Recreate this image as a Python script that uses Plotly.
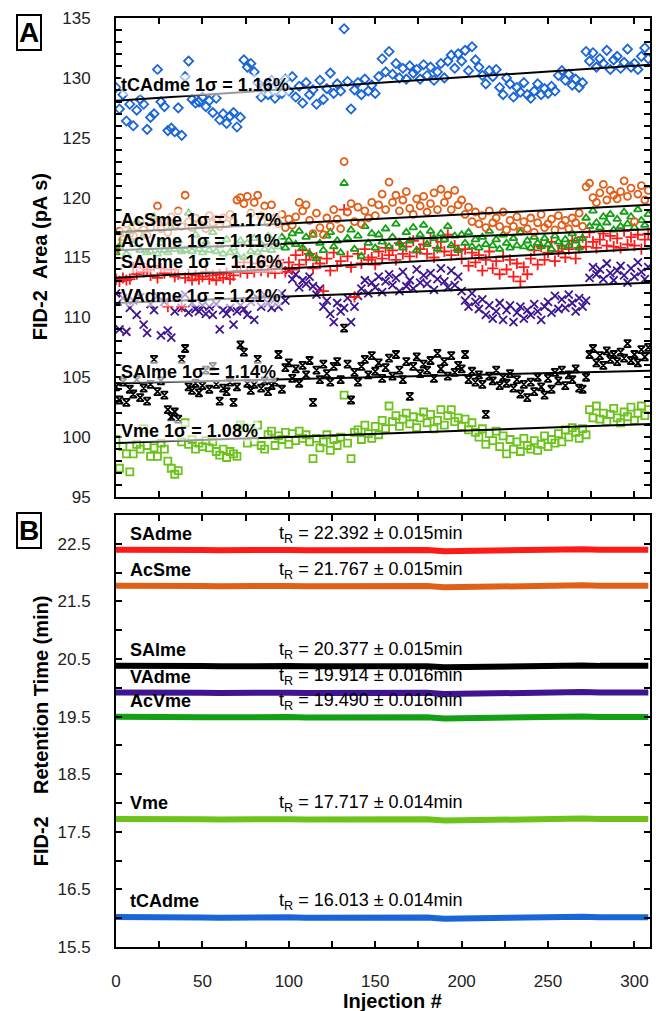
import plotly.graph_objects as go

# ---------------- DATA ----------------
inj = list(range(0, 310, 2))  # injection numbers (every 2nd injection)

tCAdme = [129.2, 127.4, 128.6, 126.4, 127.8,
          126.0, 127.3, 128.2, 127.8, 125.7,
          126.7, 127.0, 130.7, 128.0, 127.6,
          125.6, 125.8, 125.5, 127.5, 125.2,
          130.1, 131.4, 128.2, 127.9, 128.0,
          128.4, 127.6, 128.1, 127.1, 128.3,
          126.5, 127.0, 126.2, 126.8, 127.1,
          125.9, 126.7, 131.5, 130.9, 131.2,
          130.5, 129.6, 128.4, 129.2, 128.6,
          129.8, 128.3, 129.4, 128.7, 129.9,
          128.9, 130.1, 128.4, 129.3, 127.9,
          129.6, 128.6, 129.0, 127.8, 129.8,
          128.2, 129.1, 130.4, 128.7, 129.5,
          128.9, 134.1, 129.7, 127.4, 129.0,
          129.6, 128.6, 129.9, 128.9, 129.4,
          128.7, 130.1, 131.6, 130.5, 132.2,
          130.3, 131.2, 130.0, 130.8, 129.9,
          131.0, 130.4, 130.7, 129.9, 131.1,
          130.2, 130.9, 129.8, 130.5, 131.2,
          130.0, 131.4, 131.9, 130.8, 132.0,
          131.4, 132.3, 130.6, 132.6, 131.5,
          130.9, 130.2, 129.5, 130.6, 130.1,
          130.7, 129.2, 128.6, 130.0, 129.5,
          128.4, 129.2, 128.8, 129.6, 128.6,
          128.3, 128.9, 129.5, 128.6, 129.1,
          128.7, 129.3, 128.9, 130.2, 130.6,
          129.8, 130.3, 129.4, 129.9, 129.2,
          129.6, 132.2, 131.4, 132.1, 130.9,
          131.6, 131.2, 132.3, 130.7, 131.5,
          131.8, 130.8, 131.3, 132.4, 130.9,
          131.2, 130.7, 131.8, 132.5, 131.6]

AcSme = [115.7, 117.2, 116.5, 117.8, 117.0,
         116.8, 117.6, 118.0, 117.3, 116.9,
         117.5, 118.2, 119.3, 117.4, 118.0,
         117.1, 118.4, 117.7, 118.9, 117.6,
         120.2, 118.0, 117.5, 118.3, 117.8,
         118.1, 117.4, 118.5, 117.9, 118.2,
         117.6, 118.3, 117.8, 118.6, 118.0,
         119.8, 120.0, 119.5, 120.1, 118.7,
         119.6, 120.2, 118.5, 119.3, 117.9,
         119.4, 118.3, 117.8, 118.6, 117.5,
         118.2, 117.7, 118.4, 119.6, 118.9,
         119.4, 118.1, 117.0, 118.7, 117.5,
         116.9, 118.3, 117.6, 119.0, 118.2,
         117.4, 123.0, 118.8, 119.5, 118.0,
         119.2, 117.8, 118.9, 118.3, 119.6,
         118.5, 119.4, 120.3, 119.0, 121.3,
         119.6, 120.2, 118.9, 119.8, 120.5,
         119.1, 118.6, 119.9, 119.3, 120.1,
         118.8, 119.5, 120.4, 119.0, 120.7,
         119.6, 120.2, 119.0, 120.6, 119.4,
         119.8, 118.6, 119.2, 118.0, 118.8,
         117.8, 118.5, 117.5, 118.9, 117.9,
         118.3, 117.6, 118.8, 117.3, 118.1,
         117.6, 118.4, 117.2, 118.0, 117.4,
         118.3, 117.1, 117.9, 118.6, 117.5,
         117.8, 118.2, 117.3, 118.5, 117.7,
         118.1, 117.4, 118.3, 117.9, 118.7,
         117.6, 120.9, 121.2, 120.0, 119.6,
         120.4, 121.1, 119.8, 120.6, 120.2,
         119.9, 120.5, 121.4, 120.1, 120.8,
         118.0, 120.3, 121.0, 119.8, 120.6]

AcVme = [115.4, 115.9, 116.6, 115.3, 117.2,
         116.1, 118.0, 115.6, 116.8, 115.4,
         115.5, 118.4, 115.3, 116.2, 115.6,
         115.4, 117.5, 115.7, 116.4, 115.5,
         115.6, 118.7, 115.5, 116.9, 115.7,
         115.4, 116.3, 115.6, 117.1, 115.5,
         116.0, 115.3, 116.5, 115.4, 115.8,
         115.2, 116.4, 115.0, 116.2, 115.5,
         116.6, 115.4, 116.1, 115.7, 116.8,
         115.6, 116.3, 115.9, 116.7, 115.8,
         116.4, 117.0, 116.1, 117.2, 115.8,
         116.7, 115.3, 116.9, 114.9, 116.2,
         115.6, 116.8, 117.1, 115.9, 116.4,
         115.4, 121.2, 116.6, 117.3, 115.7,
         116.8, 115.1, 117.6, 116.2, 117.0,
         115.8, 116.9, 116.3, 117.4, 115.9,
         116.7, 117.8, 116.2, 115.8, 117.1,
         116.4, 117.5, 115.6, 116.9, 117.7,
         116.1, 117.2, 116.6, 115.7, 117.0,
         116.5, 117.6, 116.0, 116.8, 115.6,
         116.9, 116.2, 117.1, 115.9, 116.5,
         115.8, 116.7, 116.1, 117.2, 116.0,
         116.5, 115.7, 116.9, 116.2, 115.8,
         116.6, 116.0, 117.1, 115.9, 116.4,
         115.8, 116.7, 116.2, 115.9, 116.6,
         116.1, 115.7, 116.8, 116.3, 115.9,
         116.5, 116.0, 117.0, 116.4, 115.8,
         116.6, 118.3, 117.6, 118.9, 117.9,
         117.5, 118.4, 117.9, 118.6, 117.3,
         118.2, 117.6, 118.8, 117.8, 118.4,
         117.5, 119.0, 118.1, 117.7, 118.6]

SAdme = [113.2, 113.0, 113.3, 113.1, 113.2,
         114.2, 113.6, 114.5, 113.8, 114.0,
         113.5, 114.3, 113.3, 114.1, 113.7,
         110.9, 114.0, 113.4, 113.6, 110.9,
         113.3, 113.6, 113.1, 113.5, 113.2,
         113.4, 113.8, 113.2, 113.5, 113.1,
         113.6, 113.3, 113.7, 113.2, 113.5,
         114.3, 113.8, 114.6, 113.7, 114.2,
         113.8, 114.5, 113.9, 114.7, 113.8,
         114.3, 113.7, 114.8, 114.1, 113.8,
         114.6, 114.0, 115.2, 114.4, 115.6,
         114.8, 115.3, 114.1, 115.0, 114.5,
         112.2, 114.9, 113.9, 115.4, 114.3,
         114.7, 119.0, 115.1, 114.2, 111.7,
         115.3, 114.5, 115.7, 114.8, 115.0,
         114.4, 115.5, 114.9, 115.8, 115.2,
         115.6, 114.8, 116.2, 115.3, 115.9,
         115.1, 116.4, 115.4, 115.7, 116.1,
         115.3, 116.6, 115.0, 115.8, 116.3,
         115.5, 116.9, 115.2, 116.0, 115.6,
         114.9, 115.7, 114.3, 115.4, 114.6,
         115.2, 113.9, 114.8, 115.5, 114.1,
         114.7, 113.6, 115.1, 114.0, 114.8,
         113.4, 114.5, 113.0, 114.2, 113.6,
         114.9, 115.6, 114.4, 115.9, 114.8,
         115.4, 116.3, 114.7, 115.5, 116.0,
         115.0, 115.7, 116.4, 114.9, 115.8,
         116.7, 115.9, 117.1, 116.3, 115.8,
         116.5, 117.0, 116.0, 116.8, 115.9,
         116.6, 115.8, 117.2, 116.1, 116.7,
         116.0, 116.9, 115.7, 116.5, 117.0]

VAdme = [112.0, 109.0, 111.6, 108.8, 110.8,
         111.4, 110.2, 111.7, 109.4, 108.7,
         111.1, 110.6, 111.8, 108.5, 111.3,
         108.9, 108.3, 110.5, 111.6, 110.8,
         111.9, 110.4, 111.2, 110.7, 110.5,
         111.0, 110.3, 110.9, 110.2, 111.1,
         109.0, 110.6, 110.3, 110.8, 109.4,
         110.5, 111.0, 110.7, 110.2, 111.3,
         109.8, 111.6, 110.9, 111.9, 111.2,
         110.8, 111.5, 110.9, 112.0, 111.4,
         113.9, 113.2, 113.6, 112.5, 113.1,
         112.8, 113.4, 112.6, 111.9, 112.4,
         110.9, 111.4, 110.3, 109.6, 111.2,
         110.5, 110.8, 111.6, 109.6, 110.9,
         111.8, 112.4, 113.1, 112.0, 112.9,
         112.5, 113.4, 112.1, 113.0, 113.6,
         112.7, 113.3, 112.2, 113.8, 112.6,
         113.1, 112.4, 114.0, 112.9, 113.5,
         112.8, 113.7, 112.3, 113.2, 114.1,
         113.0, 112.5, 113.9, 112.7, 113.4,
         112.2, 111.4, 110.9, 112.0, 111.3,
         110.7, 111.5, 110.2, 111.0, 109.9,
         110.5, 111.2, 109.8, 110.6, 111.0,
         109.6, 110.4, 110.9, 109.9, 110.6,
         110.2, 111.1, 110.5, 109.8, 110.9,
         111.3, 110.4, 111.8, 110.7, 111.5,
         110.8, 111.9, 111.2, 110.5, 111.6,
         110.9, 111.4, 113.3, 114.2, 113.6,
         114.0, 113.2, 114.5, 113.7, 113.1,
         113.9, 114.3, 113.5, 112.9, 114.1,
         113.4, 114.6, 113.8, 113.2, 114.2]

SAlme = [104.2, 103.1, 104.6, 102.9, 104.0,
         103.6, 104.8, 103.3, 104.1, 103.0,
         104.4, 106.5, 103.8, 104.7, 103.5,
         102.3, 101.7, 102.1, 101.5, 106.5,
         107.4, 104.2, 103.9, 104.5, 103.7,
         104.3, 105.6, 104.0, 105.9, 104.4,
         103.0, 104.1, 103.8, 104.6, 102.9,
         104.2, 107.7, 107.1, 104.5, 103.9,
         104.4, 106.5, 104.1, 104.7, 103.8,
         104.3, 104.6, 106.9, 104.0, 105.8,
         106.2, 104.9, 105.7, 104.5, 106.0,
         105.2, 106.4, 102.9, 105.6, 104.8,
         106.1, 105.3, 104.6, 105.9, 106.3,
         104.8, 109.1, 106.1, 103.1, 105.4,
         104.6, 105.9, 106.5, 105.2, 106.8,
         105.5, 106.2, 104.9, 105.8, 106.6,
         105.1, 106.9, 105.6, 104.8, 106.3,
         103.4, 105.9, 106.7, 105.3, 106.1,
         105.6, 106.4, 104.9, 107.0, 105.7,
         106.3, 105.1, 106.8, 105.4, 106.0,
         105.7, 106.9, 104.8, 105.5, 104.6,
         105.2, 104.4, 101.9, 105.1, 104.7,
         105.6, 104.3, 105.0, 104.5, 105.3,
         104.1, 104.8, 103.6, 104.4, 103.3,
         104.6, 103.8, 105.0, 104.2, 103.5,
         104.9, 104.0, 105.4, 104.7, 105.6,
         104.3, 105.2, 104.8, 105.7, 104.1,
         104.0, 105.0, 106.9, 107.4, 106.2,
         106.8, 106.0, 107.2, 106.5, 106.9,
         106.3, 107.1, 106.6, 107.8, 106.4,
         106.9, 106.2, 107.3, 106.7, 107.5]

Vme = [99.8, 97.4, 99.2, 98.6, 97.1,
       98.6, 99.4, 99.0, 100.7, 99.3,
       98.4, 99.1, 98.4, 99.5, 99.0,
       98.0, 97.4, 96.9, 97.2, 99.6,
       101.2, 99.4, 99.8, 99.0, 99.5,
       99.2, 99.7, 99.1, 99.6, 98.8,
       98.5, 99.0, 98.3, 98.8, 98.6,
       98.4, 101.0, 100.8, 99.5, 100.7,
       99.6, 101.0, 99.3, 99.0, 100.2,
       100.5, 99.3, 100.1, 99.8, 100.4,
       99.4, 100.3, 99.7, 100.5, 99.9,
       100.2, 99.6, 98.2, 99.9, 99.1,
       99.6, 100.2, 98.9, 99.8, 99.3,
       100.0, 103.5, 99.5, 98.2, 100.4,
       100.6, 99.8, 101.0, 100.3, 99.9,
       100.9, 100.2, 101.4, 100.7, 102.6,
       101.3, 101.8, 100.9, 101.5, 102.0,
       101.1, 101.7, 100.8, 101.6, 102.1,
       101.2, 101.9, 100.7, 101.4, 102.3,
       101.0, 101.8, 102.3, 101.3, 101.6,
       100.9, 101.5, 100.6, 101.2, 100.4,
       100.0, 100.7, 99.4, 100.3, 99.7,
       100.5, 99.2, 100.1, 98.6, 99.8,
       99.0, 99.6, 98.8, 99.9, 99.3,
       99.0, 99.7, 98.9, 99.4, 100.1,
       99.2, 99.8, 99.5, 100.3, 99.6,
       100.6, 100.0, 100.8, 100.4, 99.9,
       100.7, 100.2, 102.3, 101.6, 102.6,
       101.5, 102.0, 101.3, 101.9, 102.4,
       101.6, 101.2, 102.1, 101.7, 102.5,
       101.4, 102.0, 102.6, 101.8, 102.3]

# linear fit lines (value at injection 0 and at injection 309)
fit_x = [0, 309]
fit_start = {"tCAdme": 128.1, "AcSme": 117.1, "AcVme": 115.6, "SAdme": 113.3,
             "VAdme": 111.2, "SAlme": 104.5, "Vme": 99.5}
fit_end = {"tCAdme": 131.1, "AcSme": 119.4, "AcVme": 117.35, "SAdme": 115.75,
           "VAdme": 112.9, "SAlme": 105.55, "Vme": 101.1}

sigma_labels = {"tCAdme": "1.16%", "AcSme": "1.17%", "AcVme": "1.11%", "SAdme": "1.16%",
                "VAdme": "1.21%", "SAlme": "1.14%", "Vme": "1.08%"}

# retention times (panel B)
rt_x = [0, 10, 20, 30, 40, 50, 60, 70, 80, 90, 100, 110, 120, 130, 140, 150,
        160, 170, 180, 190, 200, 210, 220, 230, 240, 250, 260, 270, 280, 290, 300, 308]
rt_SAdme = [22.398, 22.392, 22.390, 22.400, 22.394, 22.392, 22.389, 22.395, 22.392, 22.390, 22.394,
            22.388, 22.392, 22.394, 22.389, 22.392, 22.394, 22.396, 22.392, 22.372, 22.377, 22.390,
            22.396, 22.398, 22.392, 22.394, 22.400, 22.404, 22.396, 22.390, 22.394, 22.396]
rt_AcSme = [21.773, 21.767, 21.765, 21.775, 21.769, 21.767, 21.764, 21.770, 21.767, 21.765, 21.769,
            21.763, 21.767, 21.769, 21.764, 21.767, 21.769, 21.771, 21.766, 21.746, 21.751, 21.765,
            21.771, 21.773, 21.767, 21.769, 21.775, 21.779, 21.771, 21.765, 21.769, 21.771]
rt_SAlme = [20.383, 20.377, 20.375, 20.385, 20.379, 20.377, 20.374, 20.380, 20.377, 20.375, 20.379,
            20.373, 20.377, 20.379, 20.374, 20.377, 20.379, 20.381, 20.376, 20.356, 20.361, 20.375,
            20.381, 20.383, 20.377, 20.379, 20.385, 20.389, 20.381, 20.375, 20.379, 20.381]
rt_VAdme = [19.920, 19.914, 19.912, 19.922, 19.916, 19.914, 19.911, 19.917, 19.914, 19.912, 19.916,
            19.910, 19.914, 19.916, 19.911, 19.914, 19.916, 19.918, 19.913, 19.892, 19.897, 19.912,
            19.918, 19.920, 19.914, 19.916, 19.922, 19.926, 19.918, 19.912, 19.916, 19.918]
rt_AcVme = [19.496, 19.490, 19.488, 19.498, 19.492, 19.490, 19.487, 19.493, 19.490, 19.488, 19.492,
            19.486, 19.490, 19.492, 19.487, 19.490, 19.492, 19.494, 19.489, 19.468, 19.473, 19.488,
            19.494, 19.496, 19.490, 19.492, 19.498, 19.502, 19.494, 19.488, 19.492, 19.494]
rt_Vme = [17.723, 17.717, 17.715, 17.725, 17.719, 17.717, 17.714, 17.720, 17.717, 17.715, 17.719,
          17.713, 17.717, 17.719, 17.714, 17.717, 17.719, 17.721, 17.716, 17.696, 17.701, 17.715,
          17.721, 17.723, 17.717, 17.719, 17.725, 17.729, 17.721, 17.715, 17.719, 17.721]
rt_tCAdme = [16.019, 16.013, 16.011, 16.021, 16.015, 16.013, 16.010, 16.016, 16.013, 16.011, 16.015,
             16.009, 16.013, 16.015, 16.010, 16.013, 16.015, 16.017, 16.012, 15.992, 15.997, 16.011,
             16.017, 16.019, 16.013, 16.015, 16.021, 16.025, 16.017, 16.011, 16.015, 16.017]
rt_mean = {"SAdme": "22.392", "AcSme": "21.767", "SAlme": "20.377", "VAdme": "19.914",
           "AcVme": "19.490", "Vme": "17.717", "tCAdme": "16.013"}
rt_sd = {"SAdme": "0.015", "AcSme": "0.015", "SAlme": "0.015", "VAdme": "0.016",
         "AcVme": "0.016", "Vme": "0.014", "tCAdme": "0.014"}

x_tickvals = [0, 50, 100, 150, 200, 250, 300]

# ---------------- STYLE ----------------
FONT = "Liberation Sans, Arial, sans-serif"
colors = {"tCAdme": "#1a66d9", "AcSme": "#e0601a", "AcVme": "#14a014", "SAdme": "#ff1a1a",
          "VAdme": "#3d1591", "SAlme": "#000000", "Vme": "#6cc31a"}
symbols = {"tCAdme": "diamond-open", "AcSme": "circle-open", "AcVme": "triangle-up-open",
           "SAdme": "cross-thin-open", "VAdme": "x-thin-open", "SAlme": "hourglass-open",
           "Vme": "square-open"}
sizes = {"tCAdme": 7, "AcSme": 7, "AcVme": 7, "SAdme": 8, "VAdme": 8, "SAlme": 7, "Vme": 7}
area = {"tCAdme": tCAdme, "AcSme": AcSme, "AcVme": AcVme, "SAdme": SAdme,
        "VAdme": VAdme, "SAlme": SAlme, "Vme": Vme}
rts = {"SAdme": rt_SAdme, "AcSme": rt_AcSme, "SAlme": rt_SAlme, "VAdme": rt_VAdme,
       "AcVme": rt_AcVme, "Vme": rt_Vme, "tCAdme": rt_tCAdme}

fig = go.Figure()

order = ["Vme", "SAlme", "VAdme", "SAdme", "AcVme", "AcSme", "tCAdme"]
for name in order:
    fig.add_trace(go.Scatter(
        x=inj, y=area[name], mode="markers", xaxis="x", yaxis="y",
        marker=dict(symbol=symbols[name], size=sizes[name], color=colors[name],
                    line=dict(width=1.8, color=colors[name])),
        showlegend=False, hoverinfo="skip"))

for name in order:
    fig.add_trace(go.Scatter(
        x=fit_x, y=[fit_start[name], fit_end[name]], mode="lines", xaxis="x", yaxis="y",
        line=dict(color="black", width=2), showlegend=False, hoverinfo="skip"))

for name, vals in rts.items():
    fig.add_trace(go.Scatter(
        x=rt_x, y=vals, mode="lines", xaxis="x2", yaxis="y2",
        line=dict(color=colors[name], width=6), showlegend=False, hoverinfo="skip"))

# label y-positions (panel A) – where the text sits
label_y = {"tCAdme": 129.4, "AcSme": 118.15, "AcVme": 116.4, "SAdme": 114.65,
           "VAdme": 111.75, "SAlme": 105.4, "Vme": 100.5}

annotations = []
for name in ["tCAdme", "AcSme", "AcVme", "SAdme", "VAdme", "SAlme", "Vme"]:
    annotations.append(dict(
        x=2.5, y=label_y[name], xref="x", yref="y", xanchor="left", yanchor="middle",
        text=f"<b>{name} 1σ = {sigma_labels[name]}</b>", showarrow=False,
        font=dict(family=FONT, size=18, color="black"),
        bgcolor="rgba(255,255,255,0.6)", borderpad=0))

for name in rts:
    annotations.append(dict(
        x=7, y=float(rt_mean[name]), xref="x2", yref="y2", xanchor="left", yanchor="middle",
        yshift=16, text=f"<b>{name}</b>", showarrow=False,
        font=dict(family=FONT, size=18, color="black")))
    annotations.append(dict(
        x=93.3, y=float(rt_mean[name]), xref="x2", yref="y2", xanchor="left", yanchor="middle",
        yshift=16, text=f"t<sub>R</sub> = {rt_mean[name]} ± {rt_sd[name]}min", showarrow=False,
        font=dict(family=FONT, size=18, color="black")))

# panel letters
for letter, py in [("A", 0.9853), ("B", 0.4633)]:
    annotations.append(dict(
        x=-0.163, y=py, xref="paper", yref="paper", xanchor="center", yanchor="middle",
        text=f"<b>{letter}</b>", showarrow=False, font=dict(family=FONT, size=28, color="black"),
        bordercolor="black", borderwidth=2, borderpad=1, bgcolor="white"))

# axis titles
annotations.append(dict(x=-0.142, y=0.7495, xref="paper", yref="paper", textangle=-90,
                        xanchor="center", yanchor="middle",
                        text="<b>FID-2\u00a0\u00a0Area (pA s)</b>", showarrow=False,
                        font=dict(family=FONT, size=20, color="black")))
annotations.append(dict(x=-0.140, y=0.2526, xref="paper", yref="paper", textangle=-90,
                        xanchor="center", yanchor="middle",
                        text="<b>FID-2\u00a0\u00a0\u00a0\u00a0Retention Time (min)</b>", showarrow=False,
                        font=dict(family=FONT, size=20, color="black")))
annotations.append(dict(x=0.517, y=-0.0304, xref="paper", yref="paper",
                        xanchor="center", yanchor="middle",
                        text="<b>Injection #</b>", showarrow=False,
                        font=dict(family=FONT, size=20, color="black")))

common_axis = dict(showline=True, linecolor="black", linewidth=2, mirror="allticks",
                   ticks="inside", ticklen=6, tickwidth=1.5, tickcolor="black",
                   showgrid=False, zeroline=False,
                   tickfont=dict(family=FONT, size=17, color="#222"))

fig.update_layout(
    width=656, height=1011,
    margin=dict(l=116, r=4, t=18, b=39),
    paper_bgcolor="white", plot_bgcolor="white",
    showlegend=False,
    xaxis=dict(domain=[0, 1], anchor="y", range=[0, 309], dtick=50, tick0=0,
               showticklabels=False,
               minor=dict(dtick=25, ticks="inside", ticklen=6, tickcolor="black", tickwidth=1.5),
               **common_axis),
    yaxis=dict(domain=[0.4979, 1], anchor="x", range=[95, 135], dtick=5, tick0=95,
               ticklabelstandoff=20,
               minor=dict(dtick=1, ticks="inside", ticklen=6, tickcolor="black", tickwidth=1.5),
               **common_axis),
    xaxis2=dict(domain=[0, 1], anchor="y2", range=[0, 309], dtick=50, tick0=0,
                showticklabels=False,
                minor=dict(dtick=25, tick0=0, ticks="inside", ticklen=6, tickcolor="black", tickwidth=1.5),
                **common_axis),
    # label-only axis placed below panel B for the injection-number tick labels
    xaxis3=dict(domain=[0, 1], overlaying="x2", anchor="free", position=0.0031,
                range=[0, 309], tickmode="array", tickvals=x_tickvals,
                showline=False, ticks="", showgrid=False, zeroline=False,
                tickfont=dict(family=FONT, size=17, color="#222")),
    yaxis2=dict(domain=[0.0262, 0.4790], anchor="x2", range=[15.5, 23.0], dtick=1, tick0=15.5,
                tickformat=".1f", ticklabelstandoff=20,
                minor=dict(dtick=0.5, ticks="inside", ticklen=6, tickcolor="black", tickwidth=1.5),
                **common_axis),
    annotations=annotations,
)

# invisible trace to activate the label-only axis
fig.add_trace(go.Scatter(x=[0, 309], y=[None, None], mode="markers", xaxis="x3", yaxis="y2",
                         showlegend=False, hoverinfo="skip"))

fig.write_html("out.html")
